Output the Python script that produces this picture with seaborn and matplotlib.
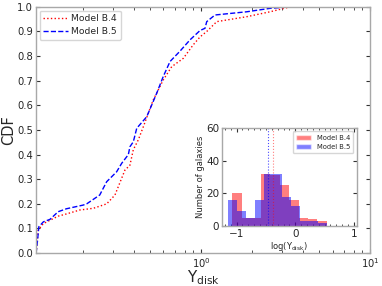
import numpy as np
import pandas as pd
import matplotlib
matplotlib.use("Agg")
import matplotlib.pyplot as plt
import seaborn as sns
from matplotlib.patches import Patch

# CDF curves (Y_disk, cumulative fraction)
b4_y = [0.106, 0.109, 0.117, 0.143, 0.160, 0.192, 0.231, 0.277, 0.310, 0.355,
        0.380, 0.398, 0.426, 0.456, 0.522, 0.598, 0.671, 0.786, 0.900, 0.987,
        1.081, 1.239, 1.862, 2.559, 3.362]
b4_cdf = [0.0, 0.093, 0.12, 0.15, 0.159, 0.175, 0.182, 0.20, 0.236, 0.337,
          0.357, 0.42, 0.46, 0.513, 0.622, 0.703, 0.757, 0.791, 0.846, 0.878,
          0.90, 0.94, 0.96, 0.98, 1.0]

b5_y = [0.106, 0.108, 0.110, 0.117, 0.128, 0.143, 0.160, 0.201, 0.211, 0.252,
        0.277, 0.317, 0.340, 0.372, 0.380, 0.398, 0.417, 0.478, 0.547, 0.598,
        0.656, 0.751, 0.861, 0.987, 1.056, 1.081, 1.210, 1.862, 2.559, 3.362]
b5_cdf = [0.0, 0.05, 0.107, 0.127, 0.137, 0.168, 0.18, 0.195, 0.20, 0.236,
          0.29, 0.33, 0.365, 0.40, 0.432, 0.452, 0.507, 0.554, 0.649, 0.717,
          0.778, 0.82, 0.866, 0.904, 0.913, 0.94, 0.967, 0.98, 0.994, 1.0]

# inset histograms of log(Y_disk)
b4_edges = np.linspace(-1.072, 0.54, 11)
b4_counts = [20, 5, 5, 32, 31, 25, 16, 5, 4, 3]
b5_edges = np.linspace(-1.145, 0.54, 12)
b5_counts = [16, 9, 5, 16, 32, 32, 18, 12, 3, 3, 2]
b4_median = -0.387
b5_median = -0.456

labels = ["Model B.4", "Model B.5"]

sns.set_style("ticks")
plt.rcParams['font.family'] = ['DejaVu Sans']

fig = plt.figure(figsize=(3.82, 2.86), dpi=100)
ax = fig.add_axes([0.094, 0.115, 0.875, 0.861])

sns.lineplot(x=b4_y, y=b4_cdf, ax=ax, color='red', linestyle=':', linewidth=1,
             sort=False, estimator=None, label=labels[0])
sns.lineplot(x=b5_y, y=b5_cdf, ax=ax, color='blue', linestyle='--', linewidth=1,
             sort=False, estimator=None, label=labels[1])

ax.set_xscale('log')
ax.set_xlim(0.1057, 10)
ax.set_ylim(0, 1)
ax.set_yticks(np.arange(0, 1.01, 0.1))
ax.set_yticklabels([f"{v:.1f}" for v in np.arange(0, 1.01, 0.1)])
ax.set_xlabel(r"Y$_{\rm disk}$", fontsize=11)
ax.xaxis.set_label_coords(0.5, -0.063)
ax.set_ylabel("CDF", fontsize=10.5, labelpad=1)
ax.tick_params(which='both', direction='in', top=True, right=True,
               labelsize=7.2, color='#333333', pad=2)
ax.tick_params(which='major', length=3)
ax.tick_params(which='minor', length=2)
for s in ax.spines.values():
    s.set_color('#a8a8a8')
    s.set_linewidth(1)
ax.legend(loc='upper left', fontsize=6.7, frameon=True, handlelength=2.6,
          handletextpad=0.4, borderpad=0.4, labelspacing=0.4,
          borderaxespad=0.4)

# inset
b4_df = pd.DataFrame({'logy': (b4_edges[:-1] + b4_edges[1:]) / 2, 'n': b4_counts})
b5_df = pd.DataFrame({'logy': (b5_edges[:-1] + b5_edges[1:]) / 2, 'n': b5_counts})

ins = fig.add_axes([0.581, 0.210, 0.353, 0.343])
sns.histplot(data=b4_df, x='logy', weights='n', bins=list(b4_edges),
             color='red', alpha=0.5, linewidth=0, ax=ins)
sns.histplot(data=b5_df, x='logy', weights='n', bins=list(b5_edges),
             color='blue', alpha=0.5, linewidth=0, ax=ins)
ins.axvline(b4_median, color='red', linestyle=':', linewidth=0.8, alpha=0.5)
ins.axvline(b5_median, color='blue', linestyle=':', linewidth=0.8, alpha=0.7)
ins.set_xlim(-1.25, 1.05)
ins.set_ylim(0, 60)
ins.set_xticks([-1, 0, 1])
ins.set_xticklabels(["\u22121", "0", "1"])
ins.set_yticks([0, 20, 40, 60])
ins.set_xticks(np.arange(-1.2, 1.01, 0.1), minor=True)
ins.set_xlabel(r"log(Y$_{\rm disk}$)", fontsize=6, labelpad=1)
ins.set_ylabel("Number of galaxies", fontsize=6, labelpad=1)
ins.tick_params(which='both', direction='in', top=True, right=True,
                labelsize=7.5, color='#333333', pad=2)
ins.tick_params(which='major', length=3)
ins.tick_params(which='minor', length=1.5)
for s in ins.spines.values():
    s.set_color('#a8a8a8')
    s.set_linewidth(1)
handles = [Patch(facecolor='red', alpha=0.5), Patch(facecolor='blue', alpha=0.5)]
ins.legend(handles, labels, loc='upper right', fontsize=4.9, frameon=True,
           handlelength=2.2, borderpad=0.5, labelspacing=0.5)

fig.savefig("out.png", dpi=100)
